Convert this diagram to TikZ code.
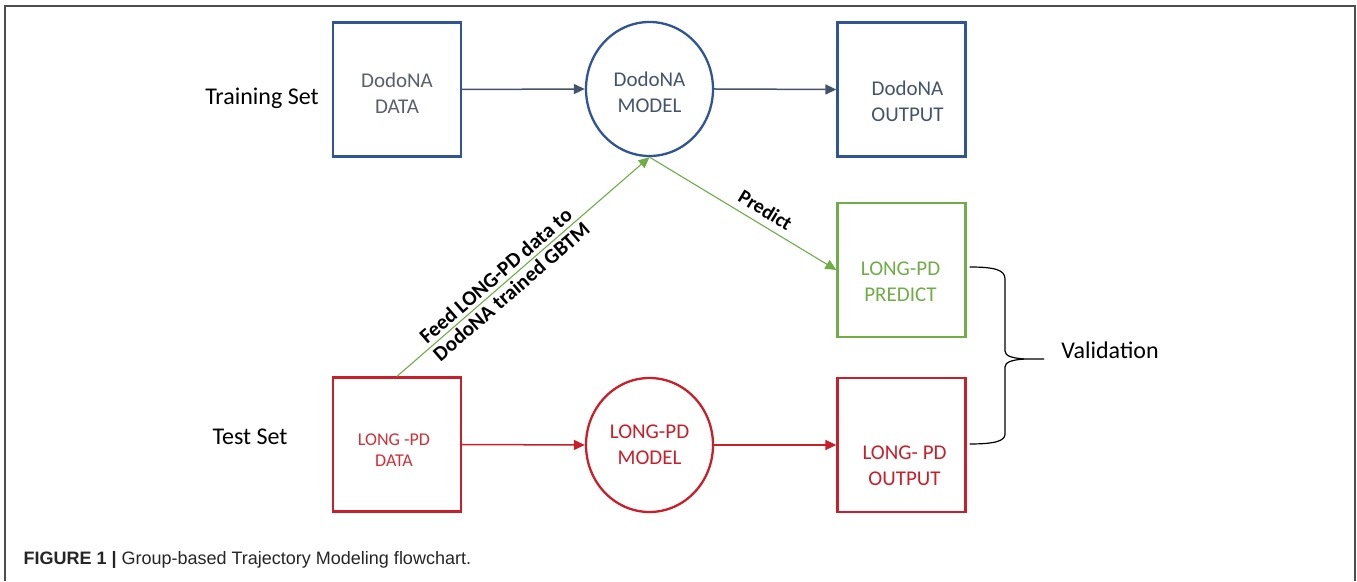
\documentclass[tikz,border=0pt]{standalone}
\usepackage{fontspec}
\setmainfont{Carlito}
\newfontfamily\capfont{Liberation Sans}
\usetikzlibrary{arrows.meta,calc,shapes.geometric}
\definecolor{dblue}{HTML}{2F5597}
\definecolor{slate}{HTML}{44546A}
\definecolor{dgray}{HTML}{59606B}
\definecolor{dred}{HTML}{C8202A}
\definecolor{lred}{HTML}{D0303A}
\definecolor{dgreen}{HTML}{70AD47}
\definecolor{frame}{HTML}{4D4D4D}
\tikzset{
  boxnode/.style={draw, rectangle, line width=2.3pt, minimum width=128pt, minimum height=134pt, inner sep=0pt},
  ovalnode/.style={draw, ellipse, line width=2.3pt, minimum width=127pt, minimum height=134pt, inner sep=0pt},
  boxtxt/.style={align=center, font=\fontsize{21}{26}\selectfont},
  sidetxt/.style={font=\fontsize{24}{28}\selectfont, text=black},
  flow/.style={line width=1.5pt, -{Triangle[length=11pt,width=10pt]}},
  gflow/.style={line width=1.1pt, dgreen, -{Triangle[length=11pt,width=10pt]}},
  lbl/.style={font=\bfseries\fontsize{21}{25}\selectfont, text=black, inner sep=1pt}
}
\begin{document}
\begin{tikzpicture}[x=1pt,y=1pt]
\useasboundingbox (0,0) rectangle (1357,581);
\fill[white] (0,0) rectangle (1357,581);
\draw[frame, line width=1.5pt] (5,0) -- (5,575) -- (1355,575) -- (1355,0);
% shapes
\node[boxnode, draw=dblue] (ddata) at (397,491.5) {};
\node[ovalnode, draw=dblue] (dmodel) at (649.5,492) {};
\node[boxnode, draw=dblue] (dout) at (901.5,491.5) {};
\node[boxnode, draw=dgreen] (lpred) at (901.5,311) {};
\node[boxnode, draw=dred] (ldata) at (397,136.5) {};
\node[ovalnode, draw=dred] (lmodel) at (649.5,136) {};
\node[boxnode, draw=dred] (lout) at (901.5,136) {};
% texts in shapes
\node[boxtxt, text=dgray] (tddata) at ($(ddata.center)+(0,-3.5)$) {DodoNA\\DATA};
\node[boxtxt, text=slate] (tdmodel) at ($(dmodel.center)+(0,-3.5)$) {DodoNA\\MODEL};
\node[boxtxt, text=slate] (tdout) at ($(dout.center)+(6,-12)$) {DodoNA\\OUTPUT};
\node[boxtxt, text=dgreen] (tlpred) at ($(lpred.center)+(-1,-12)$) {LONG-PD\\PREDICT};
\node[align=center, font=\fontsize{18}{21}\selectfont, text=lred] (tldata) at ($(ldata.center)+(-3,-6)$) {LONG -PD\\DATA};
\node[boxtxt, text=dred] (tlmodel) at ($(lmodel.center)+(0,0)$) {LONG-PD\\MODEL};
\node[boxtxt, text=dred] (tlout) at ($(lout.center)+(3,-21)$) {LONG- PD\\OUTPUT};
% side labels
\node[sidetxt] (train) at (262,483) {Training Set};
\node[sidetxt] (test) at (250,144) {Test Set};
\node[sidetxt] (valid) at (1110,231) {Validation};
% connectors
\draw[flow, slate] (ddata.east) -- (dmodel.west);
\draw[flow, slate] (dmodel.east) -- (dout.west);
\draw[flow, dred] (ldata.east) -- (lmodel.west);
\draw[flow, dred] (lmodel.east) -- (lout.west);
\draw[gflow] (ldata.north) --
  node[lbl, sloped, above=2.5pt, pos=0.42] {Feed LONG-PD data to}
  node[lbl, sloped, below=1.5pt, pos=0.425] {DodoNA trained GBTM} (dmodel.south);
\draw[gflow] (dmodel.south) -- node[lbl, font=\bfseries\fontsize{20}{24}\selectfont, sloped, above=6pt, pos=0.58] {Predict} (lpred.west);
% brace
\draw[black, line width=1.2pt] ($(lpred.east)+(3,3)$) .. controls (995,314) and (1005,311) .. (1005,302) -- (1005,230) .. controls (1005,225) and (1012,223) .. (1024,222) -- (1044,222);
\draw[black, line width=1.2pt] (1024,222) .. controls (1012,221) and (1005,219) .. (1005,214) -- (1005,147) .. controls (1005,140) and (995,137) .. ($(lout.east)+(3,1)$);
% caption
\node[anchor=west, font=\capfont\fontsize{18}{21}\selectfont, text=black!85] (cap) at (20,21) {\textbf{FIGURE 1} \textbf{|} Group-based Trajectory Modeling flowchart.};
\end{tikzpicture}
\end{document}
